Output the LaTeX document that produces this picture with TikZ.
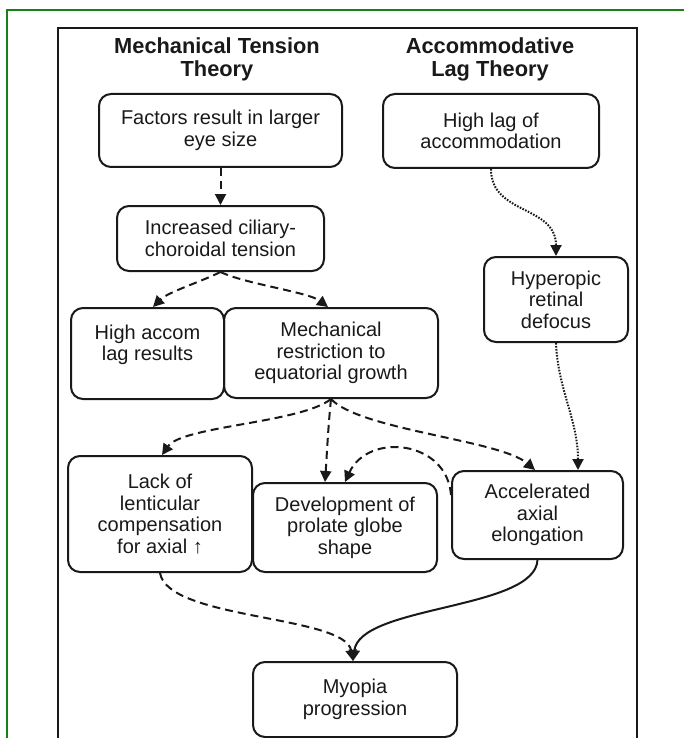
\documentclass[tikz,border=0pt]{standalone}
\usepackage{fontspec}
\setmainfont{Liberation Sans}
\usetikzlibrary{arrows.meta}
\definecolor{framegreen}{RGB}{20,130,20}
\definecolor{ink}{RGB}{25,25,25}
\newcommand\bodyfnt{\fontsize{20}{21.5}\selectfont}
\newcommand\titlefnt{\fontsize{21.8}{23}\selectfont\bfseries}
\begin{document}
\begin{tikzpicture}[x=1pt,y=-1pt,
  box/.style={draw=ink, line width=2pt, rounded corners=12pt, align=center, inner sep=0pt, font=\bodyfnt, text=ink},
  ttl/.style={align=center, font=\titlefnt, text=ink},
  conn/.style={line width=2pt, draw=ink, -{Triangle[length=11pt,width=11pt]}},
  dashedconn/.style={conn, dash pattern=on 8pt off 5pt},
  dottedconn/.style={conn, dash pattern=on 1.6pt off 1.4pt},
]
\useasboundingbox (0,0) rectangle (683,738);
% frames
\draw[framegreen, line width=2.5pt] (7,745) -- (7,10) -- (690,10);
\draw[ink, line width=1.6pt] (58,745) -- (58,28) -- (637,28) -- (637,745);
% titles
\node[ttl] (t1) at (217,59) {Mechanical Tension\\Theory};
\node[ttl] (t2) at (490,59) {Accommodative\\Lag Theory};
% boxes
\node[box, minimum width=243pt, minimum height=73pt] (A) at (220.5,130.5) {Factors result in larger\\eye size};
\node[box, minimum width=207pt, minimum height=65pt] (B) at (220.5,238.5) {Increased ciliary-\\choroidal tension};
\node[box, minimum width=216pt, minimum height=74pt] (C) at (491,131) {High lag of\\accommodation};
\node[box, minimum width=144pt, minimum height=85pt] (D) at (556,299.5) {Hyperopic\\retinal\\defocus};
\node[box, minimum width=153pt, minimum height=91pt] (E) at (147.5,353.5) {High accom\\lag results\\\mbox{}};
\node[box, minimum width=214pt, minimum height=90pt] (F) at (331,353) {Mechanical\\restriction to\\equatorial growth};
\node[box, minimum width=184pt, minimum height=116pt] (G) at (160,514) {Lack of\\lenticular\\compensation\\for axial ↑};
\node[box, minimum width=184pt, minimum height=89pt] (H) at (345,527.5) {Development of\\prolate globe\\shape};
\node[box, minimum width=171pt, minimum height=88pt] (I) at (537.5,515) {Accelerated\\axial\\elongation};
\node[box, minimum width=204pt, minimum height=75pt] (J) at (355,699.5) {Myopia\\progression};
% connectors
\draw[dashedconn] (A.south) -- (B.north);
\draw[dashedconn] (B.south) .. controls +(-20,10) and +(15,-15) .. ([xshift=5.5pt]E.north);
\draw[dashedconn] (B.south) .. controls +(25,12) and +(-20,-15) .. ([xshift=-3pt]F.north);
\draw[dashedconn] (F.south) .. controls (301,423) and (182,426) .. ([xshift=2pt]G.north);
\draw[dashedconn] (F.south) .. controls +(-3,30) and +(2,-30) .. ([xshift=-20pt]H.north);
\draw[dashedconn] (F.south) .. controls (360,430) and (500,440) .. ([xshift=-2.5pt]I.north);
\draw[dashedconn] ([yshift=20pt]I.west) .. controls (447,440) and (368,432) .. (H.north);
\draw[dottedconn] (C.south) .. controls (491,215) and (556,205) .. (D.north);
\draw[dottedconn] (D.south) .. controls (558,390) and (578,420) .. ([xshift=40.5pt]I.north);
\draw[dashedconn] (G.south) .. controls (168,620) and (345,615) .. ([xshift=-2pt]J.north);
\draw[conn] (I.south) .. controls (535,610) and (360,605) .. ([xshift=-2pt]J.north);
\end{tikzpicture}
\end{document}
